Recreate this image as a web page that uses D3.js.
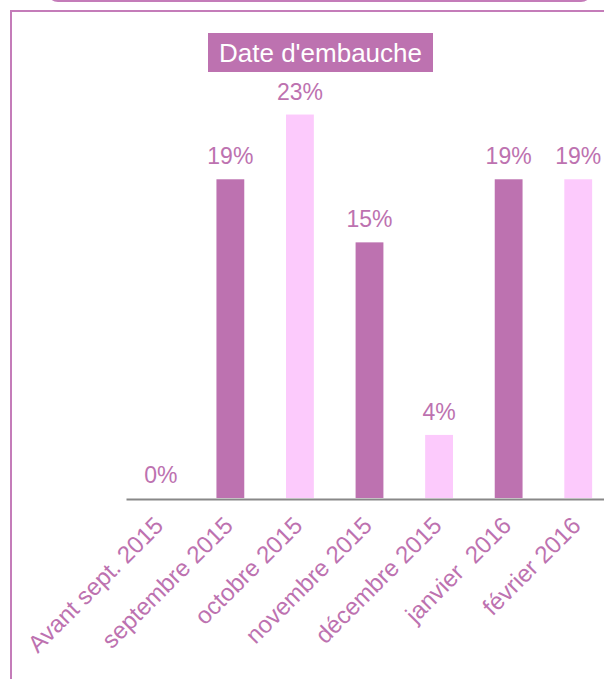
<!DOCTYPE html>
<html>
<head>
<meta charset="utf-8">
<script src="https://cdn.jsdelivr.net/npm/d3@7"></script>
<style>
  html, body { margin: 0; padding: 0; background: #fff; }
  svg { display: block; font-family: "Liberation Sans", Arial, sans-serif; }
  text { white-space: pre; }
</style>
</head>
<body>
<svg id="chart" width="604" height="679"></svg>
<script>
const title = "Date d'embauche";
const categories = ["Avant sept. 2015", "septembre 2015", "octobre 2015", "novembre 2015", "décembre 2015", "janvier  2016", "février 2016"];
const values = [0, 19.2, 23.1, 15.4, 3.8, 19.2, 19.2];
const labels = ["0%", "19%", "23%", "15%", "4%", "19%", "19%"];
const barColors = ["#bd72b0", "#bd72b0", "#fccafc", "#bd72b0", "#fccafc", "#bd72b0", "#fccafc"];

const purple = "#bd72b0";
const frame = "#c47cb9";
const svg = d3.select("#chart");

// top rounded box (partially visible)
svg.append("rect").attr("x", 48).attr("y", -40).attr("width", 543).attr("height", 41)
  .attr("rx", 10).attr("fill", "none").attr("stroke", frame).attr("stroke-width", 2);

// outer frame
svg.append("rect").attr("x", 11).attr("y", 11).attr("width", 620).attr("height", 700)
  .attr("fill", "none").attr("stroke", frame).attr("stroke-width", 2);

const x = d3.scaleBand().domain(categories).range([126, 613]).paddingInner(0.6).paddingOuter(0.3);
const y = d3.scaleLinear().domain([0, 30]).range([498, 0]);

// bars
svg.append("g").selectAll("rect").data(categories).join("rect")
  .attr("x", d => x(d))
  .attr("width", x.bandwidth())
  .attr("y", (d, i) => y(values[i]))
  .attr("height", (d, i) => y(0) - y(values[i]))
  .attr("fill", (d, i) => barColors[i]);

// value labels
svg.append("g").selectAll("text").data(categories).join("text")
  .attr("x", d => x(d) + x.bandwidth() / 2)
  .attr("y", (d, i) => y(values[i]) - 15)
  .attr("text-anchor", "middle")
  .attr("font-size", 23)
  .attr("fill", purple)
  .text((d, i) => labels[i]);

// x axis
const axis = svg.append("g").attr("transform", `translate(0,${y(0) + 1})`)
  .call(d3.axisBottom(x).tickSize(0).tickPadding(0));
axis.select(".domain").attr("stroke", "#888").attr("stroke-width", 2);
axis.selectAll(".tick text")
  .attr("font-size", 24)
  .attr("font-family", "'Liberation Sans', Arial, sans-serif")
  .attr("fill", purple)
  .attr("text-anchor", "end")
  .attr("dy", 0)
  .attr("y", 0)
  .attr("transform", "translate(4,28) rotate(-45)");

// title
const tg = svg.append("g");
tg.append("rect").attr("x", 208).attr("y", 33).attr("width", 225).attr("height", 39).attr("fill", purple);
tg.append("text").attr("x", 320.5).attr("y", 62).attr("text-anchor", "middle")
  .attr("font-size", 26).attr("fill", "#fff").text(title);
</script>
</body>
</html>
